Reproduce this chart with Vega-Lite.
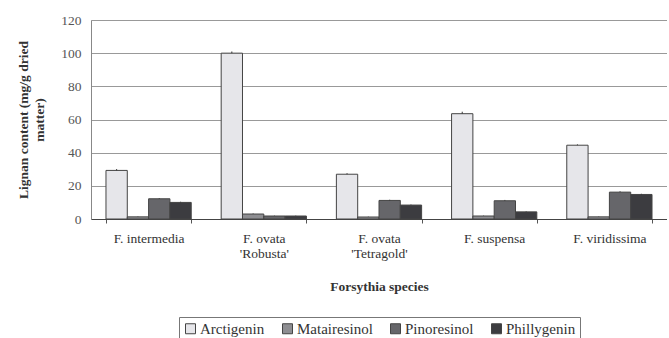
{
  "$schema": "https://vega.github.io/schema/vega-lite/v6.json",
  "autosize": {"type": "none"},
  "padding": {"left": 91, "top": 20, "right": 0, "bottom": 119},
  "width": 576,
  "height": 199,
  "background": "white",
  "data": {"values": [
    {"species": "F. intermedia", "lignan": "Arctigenin", "value": 29.3, "err": 0.8},
    {"species": "F. intermedia", "lignan": "Matairesinol", "value": 1.3, "err": 0.2},
    {"species": "F. intermedia", "lignan": "Pinoresinol", "value": 12.2, "err": 0.4},
    {"species": "F. intermedia", "lignan": "Phillygenin", "value": 10.0, "err": 0.4},
    {"species": "F. ovata|'Robusta'", "lignan": "Arctigenin", "value": 100.0, "err": 1.0},
    {"species": "F. ovata|'Robusta'", "lignan": "Matairesinol", "value": 3.0, "err": 0.3},
    {"species": "F. ovata|'Robusta'", "lignan": "Pinoresinol", "value": 1.8, "err": 0.2},
    {"species": "F. ovata|'Robusta'", "lignan": "Phillygenin", "value": 1.8, "err": 0.2},
    {"species": "F. ovata|'Tetragold'", "lignan": "Arctigenin", "value": 27.0, "err": 0.6},
    {"species": "F. ovata|'Tetragold'", "lignan": "Matairesinol", "value": 1.2, "err": 0.2},
    {"species": "F. ovata|'Tetragold'", "lignan": "Pinoresinol", "value": 11.2, "err": 0.4},
    {"species": "F. ovata|'Tetragold'", "lignan": "Phillygenin", "value": 8.4, "err": 0.3},
    {"species": "F. suspensa", "lignan": "Arctigenin", "value": 63.5, "err": 1.2},
    {"species": "F. suspensa", "lignan": "Matairesinol", "value": 1.8, "err": 0.2},
    {"species": "F. suspensa", "lignan": "Pinoresinol", "value": 11.0, "err": 0.5},
    {"species": "F. suspensa", "lignan": "Phillygenin", "value": 4.3, "err": 0.3},
    {"species": "F. viridissima", "lignan": "Arctigenin", "value": 44.5, "err": 0.5},
    {"species": "F. viridissima", "lignan": "Matairesinol", "value": 1.3, "err": 0.2},
    {"species": "F. viridissima", "lignan": "Pinoresinol", "value": 16.2, "err": 0.5},
    {"species": "F. viridissima", "lignan": "Phillygenin", "value": 14.8, "err": 0.4}
  ]},
  "encoding": {
    "x": {
      "field": "species", "type": "nominal", "sort": null,
      "scale": {"paddingInner": 0.26, "paddingOuter": 0.13},
      "axis": {
        "title": "Forsythia   species",
        "titleFont": "Liberation Serif", "titleFontSize": 13.5, "titleFontWeight": "bold", "titleColor": "#333",
        "titlePadding": 19,
        "labelFont": "Liberation Serif", "labelFontSize": 13.5, "labelColor": "#333",
        "labelAngle": 0, "labelPadding": 8,
        "labelExpr": "split(datum.label, '|')",
        "tickBand": "extent", "tickSize": 4, "tickColor": "#555",
        "domainColor": "#444", "domainWidth": 1.2,
        "grid": false
      }
    },
    "xOffset": {"field": "lignan", "type": "nominal", "sort": ["Arctigenin", "Matairesinol", "Pinoresinol", "Phillygenin"]},
    "y": {
      "field": "value", "type": "quantitative",
      "scale": {"domain": [0, 120], "nice": false},
      "axis": {
        "values": [0, 20, 40, 60, 80, 100, 120],
        "labelOverlap": false,
        "title": ["Lignan content (mg/g dried", "matter)"],
        "titleFont": "Liberation Serif", "titleFontSize": 13.5, "titleFontWeight": "bold", "titleColor": "#333",
        "titlePadding": 14, "titleLineHeight": 16,
        "labelFont": "Liberation Serif", "labelFontSize": 13.5, "labelColor": "#555", "labelPadding": 10,
        "gridColor": "#999", "gridWidth": 1,
        "domain": true, "domainColor": "#888",
        "ticks": false
      }
    }
  },
  "layer": [
    {
      "mark": {"type": "bar", "stroke": "#444", "strokeWidth": 1},
      "encoding": {
        "fill": {
          "field": "lignan", "type": "nominal",
          "sort": ["Arctigenin", "Matairesinol", "Pinoresinol", "Phillygenin"],
          "scale": {"domain": ["Arctigenin", "Matairesinol", "Pinoresinol", "Phillygenin"], "range": ["#e6e6ea", "#8e8e92", "#66666a", "#3c3c40"]},
          "legend": {
            "title": null, "orient": "none", "direction": "horizontal",
            "legendX": 88, "legendY": 297,
            "symbolType": "square", "symbolSize": 100, "symbolStrokeColor": "#444", "symbolStrokeWidth": 1,
            "labelFont": "Liberation Serif", "labelFontSize": 15, "labelColor": "#333",
            "columnPadding": 15, "symbolOffset": 0, "labelOffset": 2,
            "strokeColor": "#777", "padding": 4
          }
        }
      }
    },
    {
      "mark": {"type": "rule", "color": "#333", "strokeWidth": 1},
      "encoding": {
        "y2": {"field": "hi"}
      },
      "transform": [{"calculate": "datum.value + datum.err", "as": "hi"}]
    }
  ]
}
